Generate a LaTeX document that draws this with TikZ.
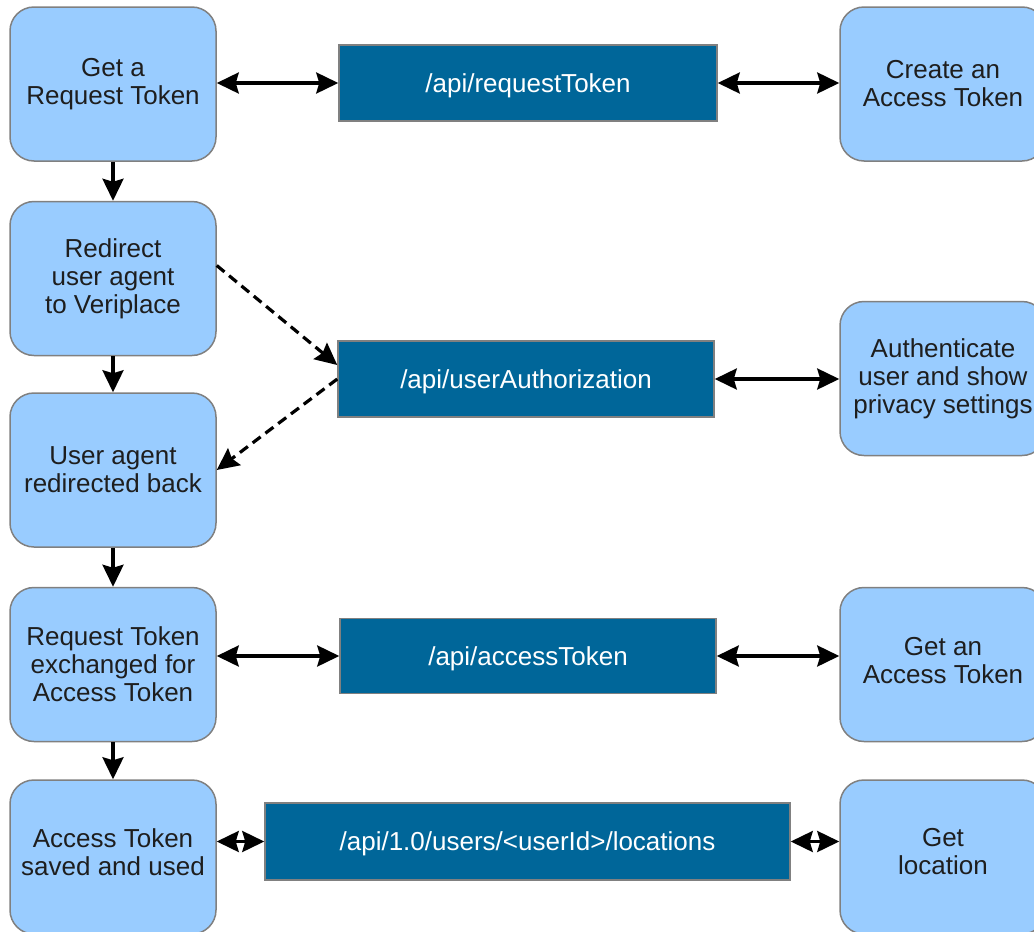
\documentclass[tikz,border=0pt]{standalone}
\usepackage{fontspec}
\setmainfont{Liberation Sans}
\usetikzlibrary{arrows.meta}
\definecolor{lightbox}{HTML}{99CCFF}
\definecolor{darkbox}{HTML}{006699}
\definecolor{boxedge}{HTML}{808080}
\definecolor{txt}{HTML}{1E1E1E}
\begin{document}
\begin{tikzpicture}[x=1pt,y=-1pt,
  steptext/.style={align=center, text=txt, font=\fontsize{26}{28}\selectfont, inner sep=0pt},
  stepbox/.style={draw=boxedge, line width=1.5pt, fill=lightbox, rounded corners=24pt,
    minimum width=206pt, minimum height=154pt, steptext},
  apibox/.style={draw=boxedge, line width=1.5pt, fill=darkbox, minimum height=76pt,
    text=white, font=\fontsize{26}{28}\selectfont, inner sep=0pt,
    text height=21pt, text depth=3pt},
  tip/.tip={Stealth[length=22pt,width=21pt,inset=3pt]},
  link/.style={line width=3.2pt, black, tip-tip},
  flow/.style={line width=3.2pt, black, -tip},
  redir/.style={line width=3.2pt, black, -tip, dash pattern=on 10pt off 6pt}
]
\useasboundingbox (0,0) rectangle (1034,932);

% left column
\node[stepbox] (L1) at (113,84) {Get a\\Request Token};
\node[stepbox] (L2) at (113,278.5) {Redirect\\user agent\\to Veriplace};
\node[stepbox] (L3) at (113,470) {User agent\\redirected back};
\node[stepbox] (L4) at (113,664.5) {Request Token\\exchanged for\\Access Token};
\node[stepbox, label={[steptext, yshift=5pt]center:{Access Token\\saved and used}}] (L5) at (113,857) {};

% right column
\node[stepbox] (R1) at (943,84) {Create an\\Access Token};
\node[stepbox] (R2) at (943,378.5) {Authenticate\\user and show\\privacy settings};
\node[stepbox, label={[steptext, yshift=4pt]center:{Get an\\Access Token}}] (R3) at (943,664.5) {};
\node[stepbox, label={[steptext, yshift=5pt]center:{Get\\location}}] (R4) at (943,857) {};

% middle api boxes
\node[apibox, minimum width=378pt] (M1) at (528,83) {/api/requestToken};
\node[apibox, minimum width=376pt] (M2) at (526,379) {/api/userAuthorization};
\node[apibox, minimum width=376pt, minimum height=75pt] (M3) at (528,656) {/api/accessToken};
\node[apibox, minimum width=525pt, minimum height=77pt] (M4) at (527.5,841.5) {/api/1.0/users/<userId>/locations};

% vertical flow
\draw[flow] (L1) -- (L2);
\draw[flow] (L2) -- (L3);
\draw[flow] (L3) -- (L4);
\draw[flow] (L4) -- (L5);

% horizontal links
\draw[link] (M1.west -| L1.east) -- (M1.west);
\draw[link] (M1.east) -- (M1.east -| R1.west);
\draw[link] (M2.east) -- (M2.east -| R2.west);
\draw[link] (M3.west -| L4.east) -- (M3.west);
\draw[link] (M3.east) -- (M3.east -| R3.west);
\draw[link] (M4.west -| L5.east) -- (M4.west);
\draw[link] (M4.east) -- (M4.east -| R4.west);

% redirects
\draw[redir] ([yshift=13pt]L2.east) -- ([yshift=14pt]M2.west);
\draw[redir] (M2.west) -- (L3.east);
\end{tikzpicture}
\end{document}
